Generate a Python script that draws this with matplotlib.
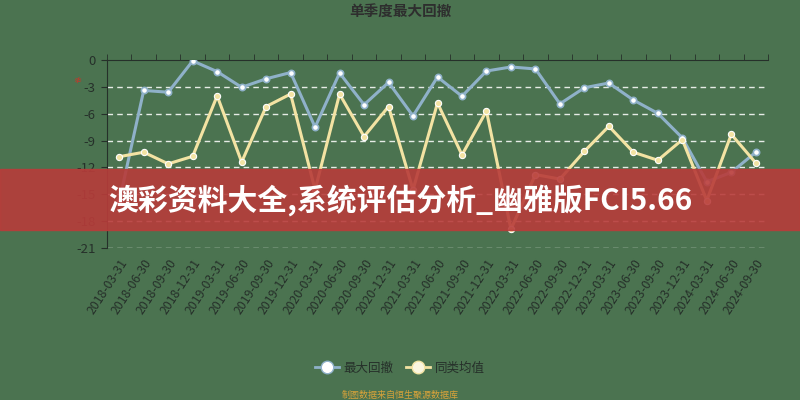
import numpy as np
import matplotlib
matplotlib.use('Agg')
import matplotlib.pyplot as plt
from matplotlib.lines import Line2D
from matplotlib.patches import Rectangle

plt.rcParams['font.family'] = ['Noto Sans CJK SC', 'DejaVu Sans']

dates = ['2018-03-31', '2018-06-30', '2018-09-30', '2018-12-31',
         '2019-03-31', '2019-06-30', '2019-09-30', '2019-12-31',
         '2020-03-31', '2020-06-30', '2020-09-30', '2020-12-31',
         '2021-03-31', '2021-06-30', '2021-09-30', '2021-12-31',
         '2022-03-31', '2022-06-30', '2022-09-30', '2022-12-31',
         '2023-03-31', '2023-06-30', '2023-09-30', '2023-12-31',
         '2024-03-31', '2024-06-30', '2024-09-30']
max_dd = [-15.8, -3.4, -3.6, -0.1, -1.3, -3.05, -2.1, -1.4, -7.5, -1.45,
          -5.0, -2.5, -6.25, -1.9, -4.05, -1.23, -0.78, -1.0, -4.9, -3.1,
          -2.57, -4.47, -5.96, -8.7, -13.6, -12.55, -10.3]
peer_avg = [-10.8, -10.3, -11.6, -10.76, -4.0, -11.4, -5.2, -3.8, -14.5, -3.8,
            -8.55, -5.2, -14.5, -4.8, -10.6, -5.7, -18.9, -12.8, -13.3, -10.2,
            -7.4, -10.3, -11.2, -8.9, -15.7, -8.3, -11.5]
yticks = [0, -3, -6, -9, -12, -15, -18, -21]

bg = '#4b7350'
blue = '#8fb1c9'
yellow = '#f3e3a3'
dark = '#26302a'

fig = plt.figure(figsize=(8, 4), dpi=100, facecolor=bg)
ax = fig.add_axes([0.13375, 0.38, 0.82625, 0.47])
ax.set_facecolor(bg)

x = np.arange(len(dates))
ax.plot(x, max_dd, color=blue, lw=2.2, marker='o', ms=4.5, mfc='white',
        mec=blue, mew=1.2, zorder=3)
ax.plot(x, peer_avg, color=yellow, lw=2.2, marker='o', ms=4.5, mfc=yellow,
        mec='white', mew=0.8, zorder=3)

ax.set_xlim(-0.5, len(dates) - 0.5)
ax.set_ylim(-21, 0)
ax.set_yticks(yticks)
ax.set_yticklabels([str(v) for v in yticks], color=dark, fontsize=9.5)
for v in yticks[1:]:
    ax.axhline(v, color='#e6ece6', lw=1, ls=(0, (4, 3)), zorder=1)

ax.set_xticks(x)
ax.set_xticklabels(dates, rotation=57, ha='right', va='top',
                   rotation_mode='anchor', fontsize=8.8, color=dark)
ax.set_xticks(np.arange(len(dates) + 1) - 0.5, minor=True)
ax.tick_params(axis='x', which='major', length=0, pad=6, bottom=True, top=False)
ax.tick_params(axis='x', which='minor', length=4, top=True, bottom=False,
               direction='out', color=dark)
ax.tick_params(axis='y', length=4, color=dark, pad=4)

for s in ['right', 'bottom']:
    ax.spines[s].set_visible(False)
ax.spines['top'].set_color(dark)
ax.spines['left'].set_color(dark)

fig.text(0.5, 0.97, '单季度最大回撤', ha='center', va='center',
         fontsize=10.5, fontweight='heavy', color='#2e2e2e')
fig.text(0.097, 0.80, '≉', ha='center', va='center', fontsize=7,
         color='#c0392b', family=['DejaVu Sans'])

handles = [Line2D([], [], color=blue, lw=2, marker='o', ms=9, mfc='white',
                  mec=blue),
           Line2D([], [], color=yellow, lw=2, marker='o', ms=9, mfc='#fbf6e0',
                  mec=yellow)]
fig.legend(handles, ['最大回撤', '同类均值'], loc='center',
           bbox_to_anchor=(0.5, 1 - 368 / 400), ncol=2, frameon=False,
           fontsize=9, labelcolor=dark, handlelength=1.9,
           columnspacing=1.0, handletextpad=0.4)
fig.text(0.5, 1 - 395 / 400, '制图数据来自恒生聚源数据库', ha='center',
         va='center', fontsize=6.5, color='#d9a33a')

# banner
fig.patches.append(Rectangle((0, 1 - 230 / 400), 1, 61 / 400,
                             transform=fig.transFigure, color='#b83c3a',
                             alpha=0.9, zorder=5))
fig.text(108 / 800, 1 - 200 / 400, '澳彩资料大全,系统评估分析_幽雅版FCI5.66',
         ha='left', va='center', fontsize=21.5, fontweight='black',
         color='white', zorder=6)

fig.savefig('out.png', dpi=100, facecolor=bg)
